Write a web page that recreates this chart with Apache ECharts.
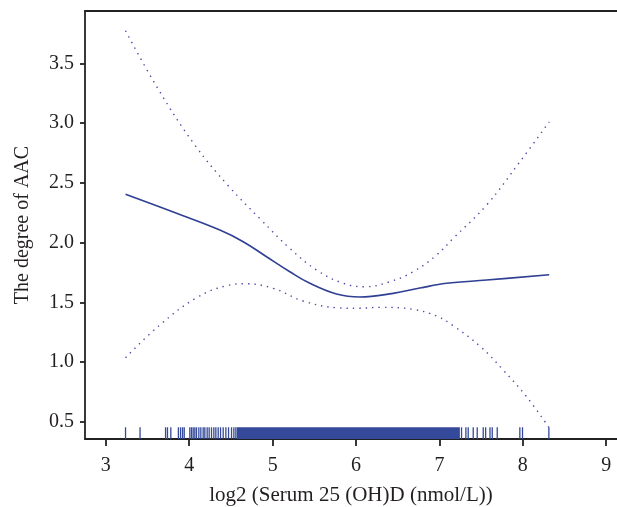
<!DOCTYPE html>
<html>
<head>
<meta charset="utf-8">
<title>AAC vs log2 25(OH)D</title>
<script src="https://cdn.jsdelivr.net/npm/echarts@6/dist/echarts.min.js"></script>
<style>
  html, body { margin: 0; padding: 0; background: #fff; }
  #main { width: 617px; height: 507px; }
</style>
</head>
<body>
<div id="main"></div>
<script type="text/javascript">
// smoothed fit and its 95% CI as [x, y]
var fitLine = [[3.236,2.404],[3.848,2.245],[4.367,2.105],[4.647,2.008],[4.927,1.882],[5.206,1.757],
    [5.446,1.660],[5.766,1.570],[6.046,1.545],[6.445,1.576],[6.765,1.620],[7.085,1.660],[7.565,1.687],[8.316,1.732]];
var upperCI = [[3.236,3.772],[3.627,3.284],[4.067,2.816],[4.467,2.476],[4.855,2.195],[5.206,1.952],[5.526,1.771],
    [5.846,1.660],[6.106,1.631],[6.405,1.673],[6.685,1.757],[6.965,1.896],[7.165,2.036],[7.565,2.314],[7.964,2.676],[8.316,3.010]];
var lowerCI = [[3.236,1.038],[3.647,1.311],[4.087,1.539],[4.447,1.640],[4.687,1.656],[5.006,1.618],[5.366,1.512],
    [5.766,1.456],[6.026,1.451],[6.285,1.459],[6.685,1.442],[6.965,1.386],[7.165,1.305],[7.484,1.135],[7.764,0.935],[8.044,0.712],[8.312,0.456]];

// rug: single observations and the solid dense block
var rugTicks = [3.236,3.41,3.716,3.739,3.779,3.87,3.896,3.92,3.94,
    4.007,4.027,4.047,4.067,4.087,4.115,4.139,4.167,4.187,4.215,4.239,4.267,4.295,4.319,4.347,4.375,4.407,4.439,4.471,4.507,4.535,4.559,
    7.265,7.317,7.345,7.405,7.453,7.525,7.554,7.606,7.633,7.693,7.964,7.996,8.312];
var rugBand = [[4.57, 7.245]];
var rugTop = 0.456;

var xTicks = [3, 4, 5, 6, 7, 8, 9];
var yTicks = [0.5, 1.0, 1.5, 2.0, 2.5, 3.0, 3.5];

var xMin = 2.75, xMax = 9.129, yMin = 0.358, yMax = 3.937;
var font = 'Liberation Serif';
var lineCol = '#2f3f92';
var rugCol = '#34499a';
var ciCol = '#5546a8';

var myChart = echarts.init(document.getElementById('main'));

myChart.setOption({
    animation: false,
    grid: {left: 85, right: 0, top: 11, bottom: 68, outerBoundsMode: 'none'},
    xAxis: [
        {
            type: 'value', min: xMin, max: xMax,
            name: 'log2 (Serum 25 (OH)D (nmol/L))',
            nameLocation: 'middle', nameGap: 46,
            nameTextStyle: {fontFamily: font, fontSize: 21, color: '#231f20'},
            axisLine: {show: true, onZero: false, lineStyle: {color: '#222', width: 1.8}},
            axisTick: {show: true, length: 7, customValues: xTicks, lineStyle: {color: '#222', width: 1.8}},
            axisLabel: {customValues: xTicks, margin: 17, fontFamily: font, fontSize: 20, color: '#231f20'},
            splitLine: {show: false}
        },
        {
            type: 'value', min: xMin, max: xMax, position: 'top',
            axisLine: {show: true, onZero: false, lineStyle: {color: '#222', width: 1.8}},
            axisTick: {show: false}, axisLabel: {show: false}, splitLine: {show: false}
        }
    ],
    yAxis: {
        type: 'value', min: yMin, max: yMax,
        name: 'The degree of AAC',
        nameLocation: 'middle', nameGap: 52,
        nameTextStyle: {fontFamily: font, fontSize: 20, color: '#231f20'},
        axisLine: {show: true, onZero: false, lineStyle: {color: '#222', width: 1.8}},
        axisTick: {show: true, length: 5, customValues: yTicks, lineStyle: {color: '#222', width: 1.8}},
        axisLabel: {
            customValues: yTicks, margin: 11, fontFamily: font, fontSize: 20, color: '#231f20',
            formatter: function (v) { return v.toFixed(1); }
        },
        splitLine: {show: false}
    },
    series: [
        {
            type: 'custom', name: 'rugBand', data: rugBand, silent: true,
            renderItem: function (params, api) {
                var p0 = api.coord([api.value(0), rugTop]);
                var p1 = api.coord([api.value(1), yMin]);
                return {type: 'rect', shape: {x: p0[0], y: p0[1], width: p1[0] - p0[0], height: p1[1] - p0[1]},
                    style: {fill: rugCol}};
            }
        },
        {
            type: 'custom', name: 'rug', data: rugTicks.map(function (v) { return [v]; }), silent: true,
            renderItem: function (params, api) {
                var p0 = api.coord([api.value(0), rugTop]);
                var p1 = api.coord([api.value(0), yMin]);
                return {type: 'line', shape: {x1: p0[0], y1: p0[1], x2: p1[0], y2: p1[1]},
                    style: {stroke: rugCol, lineWidth: 1.3}};
            }
        },
        {
            type: 'line', name: 'upper', data: upperCI, smooth: 0.4, symbol: 'none',
            lineStyle: {color: ciCol, width: 1.4, type: [1.4, 5]}
        },
        {
            type: 'line', name: 'lower', data: lowerCI, smooth: 0.4, symbol: 'none',
            lineStyle: {color: ciCol, width: 1.4, type: [1.4, 5]}
        },
        {
            type: 'line', name: 'fit', data: fitLine, smooth: 0.4, symbol: 'none',
            lineStyle: {color: lineCol, width: 1.6}
        }
    ]
});
</script>
</body>
</html>
